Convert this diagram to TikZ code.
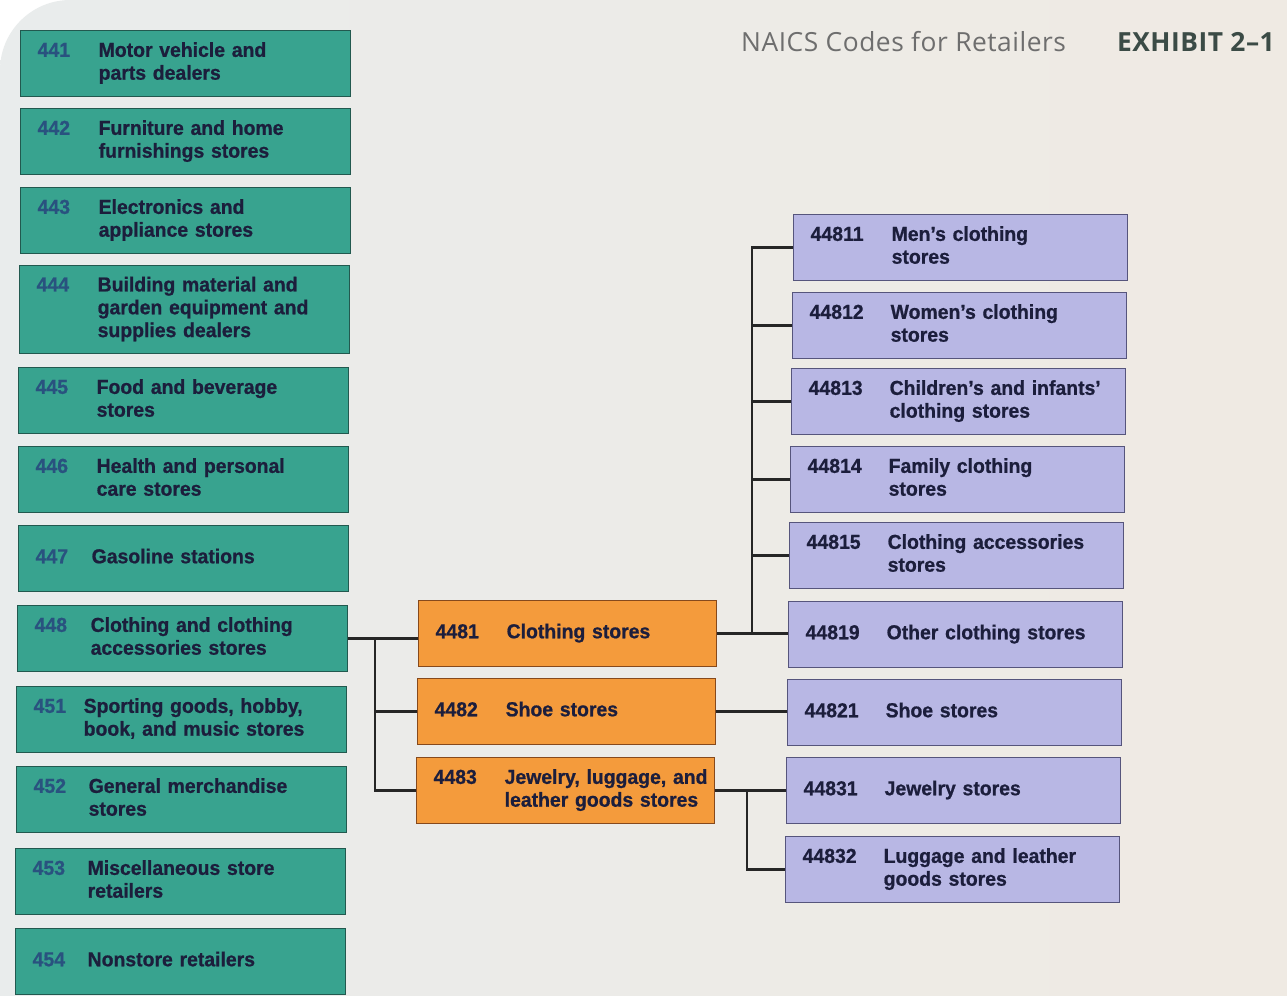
\documentclass[tikz,border=0pt]{standalone}
\usepackage{fontspec}
\setmainfont{Liberation Sans}
\newfontfamily\boxfont[Ligatures=TeX, FakeStretch=0.96, BoldFeatures={FakeBold=0.8}]{Liberation Sans}
\newfontfamily\titlefont[Ligatures=TeX, LetterSpace=2]{Open Sans}
\usetikzlibrary{positioning,calc}

\definecolor{pageleft}{HTML}{E9ECEC}
\definecolor{pageright}{HTML}{F0EAE2}
\definecolor{sectgreen}{HTML}{38A38F}
\definecolor{greenline}{HTML}{22594F}
\definecolor{subsorange}{HTML}{F49B3C}
\definecolor{orangeline}{HTML}{86491C}
\definecolor{industlav}{HTML}{B8B7E4}
\definecolor{lavline}{HTML}{56557C}
\definecolor{codetext}{HTML}{1C1E3C}
\definecolor{numblue}{HTML}{29527F}
\definecolor{titlegray}{HTML}{6E6E6E}
\definecolor{exhibitgray}{HTML}{3B4B46}

\tikzset{
  codebox/.style={draw=#1, line width=0.8pt, anchor=north west, align=left,
    inner xsep=0.34cm, inner ysep=0.08cm, text=codetext,
    font=\boxfont\fontsize{11.5}{13}\selectfont\bfseries},
  gbox/.style={codebox=greenline, fill=sectgreen, text width=5.92cm, minimum height=1.32cm},
  obox/.style={codebox=orangeline, fill=subsorange, text width=5.28cm, minimum height=1.32cm},
  pbox/.style={codebox=lavline, fill=industlav, text width=6.0cm, minimum height=1.32cm},
  conn/.style={line width=1.4pt, black!85}
}

% number column + description
\newcommand{\codeline}[3]{\makebox[#1][l]{#2}\begin{tabular}[t]{@{}l@{}}#3\end{tabular}}
\newcommand{\gcode}[3][1.22cm]{\codeline{#1}{\textcolor{numblue}{#2}}{#3}}
\newcommand{\ocode}[2]{\codeline{1.42cm}{#1}{#2}}
\newcommand{\pcode}[2]{\codeline{1.62cm}{#1}{#2}}

\begin{document}
\begin{tikzpicture}[x=0.02cm, y=-0.02cm]
    \useasboundingbox (0,0) rectangle (1287,995);
    \clip (0,0) rectangle (1287,995);

    % page
    \fill[white] (0,0) rectangle (1287,995);
    \shade[left color=pageleft, right color=pageright, rounded corners=40pt] (0,0) rectangle (1400,1100);

    % title
    \node[anchor=base west, text=titlegray, font=\titlefont\fontsize{15}{18}\selectfont] (title) at (735,51) {NAICS Codes for Retailers};
    \node[anchor=base east, text=exhibitgray, font=\titlefont\fontsize{15}{18}\selectfont\bfseries] (exhibit) at (1281,51) {EXHIBIT 2\textendash 1};

    % sectors
    \node[gbox] (g441) at (20,30) {\gcode{441}{Motor vehicle and\\parts dealers}};
    \node[gbox] (g442) at (20,108) {\gcode{442}{Furniture and home\\furnishings stores}};
    \node[gbox] (g443) at (20,187) {\gcode{443}{Electronics and\\appliance stores}};
    \node[gbox, minimum height=1.76cm] (g444) at (19,265) {\gcode{444}{Building material and\\garden equipment and\\supplies dealers}};
    \node[gbox] (g445) at (18,367) {\gcode{445}{Food and beverage\\stores}};
    \node[gbox] (g446) at (18,446) {\gcode{446}{Health and personal\\care stores}};
    \node[gbox] (g447) at (18,525) {\gcode[1.12cm]{447}{Gasoline stations}};
    \node[gbox] (g448) at (17,605) {\gcode[1.12cm]{448}{Clothing and clothing\\accessories stores}};
    \node[gbox] (g451) at (16,686) {\gcode[1.0cm]{451}{Sporting goods, hobby,\\book, and music stores}};
    \node[gbox] (g452) at (16,766) {\gcode[1.1cm]{452}{General merchandise\\stores}};
    \node[gbox] (g453) at (15,848) {\gcode[1.1cm]{453}{Miscellaneous store\\retailers}};
    \node[gbox] (g454) at (15,928) {\gcode[1.1cm]{454}{Nonstore retailers}};

    % subsectors of 448
    \node[obox] (o4481) at (418,600) {\ocode{4481}{Clothing stores}};
    \node[obox] (o4482) at (417,678) {\ocode{4482}{Shoe stores}};
    \node[obox] (o4483) at (416,757) {\ocode{4483}{Jewelry, luggage, and\\leather goods stores}};

    % industries
    \node[pbox] (p44811) at (793,214) {\pcode{44811}{Men’s clothing\\stores}};
    \node[pbox] (p44812) at (792,292) {\pcode{44812}{Women’s clothing\\stores}};
    \node[pbox] (p44813) at (791,368) {\pcode{44813}{Children’s and infants’\\clothing stores}};
    \node[pbox] (p44814) at (790,446) {\pcode{44814}{Family clothing\\stores}};
    \node[pbox] (p44815) at (789,522) {\pcode{44815}{Clothing accessories\\stores}};
    \node[pbox] (p44819) at (788,601) {\pcode{44819}{Other clothing stores}};
    \node[pbox] (p44821) at (787,679) {\pcode{44821}{Shoe stores}};
    \node[pbox] (p44831) at (786,757) {\pcode{44831}{Jewelry stores}};
    \node[pbox] (p44832) at (785,836) {\pcode{44832}{Luggage and leather\\goods stores}};

    % connectors
    \coordinate (busA) at (375,0);
    \coordinate (busB) at (752,0);
    \coordinate (busC) at (747,0);
    \draw[conn] (g448.east) -- (g448.east -| o4481.west);
    \draw[conn] (g448.east -| busA) |- (o4482.west);
    \draw[conn] (g448.east -| busA) |- (o4483.west);

    \draw[conn] (o4481.east) -- (o4481.east -| p44819.west);
    \foreach \k in {44811,44812,44813,44814,44815}
        \draw[conn] (o4481.east -| busB) |- (p\k.west);
    \draw[conn] (o4482.east) -- (o4482.east -| p44821.west);
    \draw[conn] (o4483.east) -- (o4483.east -| p44831.west);
    \draw[conn] (o4483.east -| busC) |- (p44832.west);
\end{tikzpicture}
\end{document}
